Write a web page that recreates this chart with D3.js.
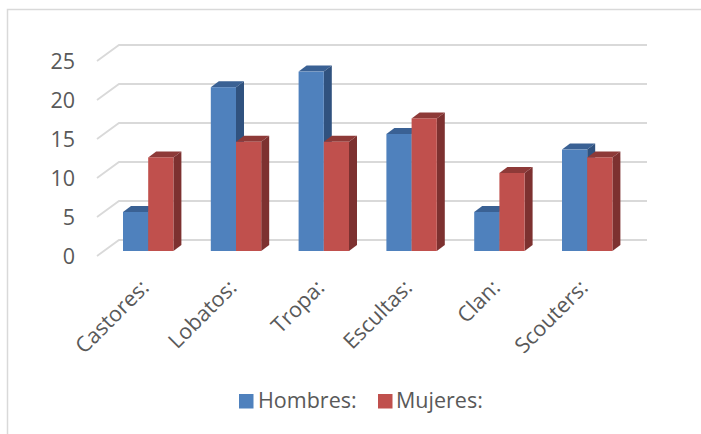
<!DOCTYPE html>
<html>
<head>
<meta charset="utf-8">
<script src="https://cdn.jsdelivr.net/npm/d3@7"></script>
<style>
  html, body { margin: 0; padding: 0; background: #fff; }
  svg { display: block; }
  text { font-family: "Open Sans", sans-serif; fill: #595959; }
</style>
</head>
<body>
<div id="chart"></div>
<script>
var width = 701;
var height = 434;

var categories = ["Castores:", "Lobatos:", "Tropa:", "Escultas:", "Clan:", "Scouters:"];
var seriesNames = ["Hombres:", "Mujeres:"];
var hombres = [5, 21, 23, 15, 5, 13];
var mujeres = [12, 14, 14, 17, 10, 12];
var yTicks = [0, 5, 10, 15, 20, 25];
var frontColors = ["#4f81bd", "#c0504d"];
var sideColors = ["#30527f", "#7d3130"];
var topColors = ["#3a6194", "#8e3a38"];

// fake 3d offsets of the bars and of the walls
var depthX = 8, depthY = -6;
var wallX = 22, wallY = -16;
var fontSize = 21.5;

var svg = d3.select("#chart").append("svg")
  .attr("width", width)
  .attr("height", height);

// chart frame, runs off the right and bottom of the picture
svg.append("path")
  .attr("d", "M7.5," + height + "V9.5H" + width)
  .attr("fill", "none")
  .attr("stroke", "#d9d9d9")
  .attr("stroke-width", 1.5);

var x = d3.scaleBand().domain(categories).range([123, 612.4]).paddingInner(0.426);
var xSeries = d3.scaleBand().domain(seriesNames).range([0, x.bandwidth()]);
var y = d3.scaleLinear().domain([0, 25]).range([251, 56]);

// gridlines on the side wall and the back wall
var grid = svg.append("g")
  .attr("fill", "none")
  .attr("stroke", "#d9d9d9")
  .attr("stroke-width", 1.8);

grid.selectAll("path")
  .data(yTicks)
  .enter()
  .append("path")
  .attr("d", (d) => {
    const y0 = y(d) + 5;
    return `M97,${y0}L${97 + wallX},${y0 + wallY}H647`;
  });

// y axis labels
var yAxis = svg.append("g")
  .attr("transform", "translate(97,6)")
  .call(d3.axisLeft(y).tickValues(yTicks).tickSize(0).tickPadding(22));
yAxis.select(".domain").remove();
yAxis.selectAll("text")
  .style("font-family", '"Open Sans", sans-serif')
  .style("font-size", fontSize + "px")
  .style("fill", "#595959");

// bars, left to right so that red covers the side of blue
var groups = svg.selectAll(".group")
  .data(categories)
  .enter()
  .append("g")
  .attr("class", "group")
  .attr("transform", (d) => `translate(${x(d)},0)`);

groups.each(function (cat, i) {
  const group = d3.select(this);
  [hombres[i], mujeres[i]].forEach((value, s) => {
    const x0 = xSeries(seriesNames[s]);
    const x1 = x0 + xSeries.bandwidth();
    const yTop = y(value);
    const yBase = y(0);

    group.append("path")
      .attr("fill", topColors[s])
      .attr("d", `M${x0},${yTop}l${depthX},${depthY}H${x1 + depthX}L${x1},${yTop}Z`);

    group.append("path")
      .attr("fill", sideColors[s])
      .attr("d", `M${x1},${yTop}l${depthX},${depthY}V${yBase + depthY}L${x1},${yBase}Z`);

    group.append("rect")
      .attr("x", x0)
      .attr("y", yTop)
      .attr("width", x1 - x0)
      .attr("height", yBase - yTop)
      .attr("fill", frontColors[s]);
  });
});

// rotated category labels, their ends sit under the middle of each group
svg.selectAll(".cat-label")
  .data(categories)
  .enter()
  .append("text")
  .attr("class", "cat-label")
  .attr("text-anchor", "end")
  .attr("font-size", fontSize)
  .attr("transform", (d) => `translate(${x(d) + x.bandwidth() / 2 + 2},${289}) rotate(-45)`)
  .text((d) => d);

// legend
var legendX = d3.scaleOrdinal().domain(seriesNames).range([239, 378]);

var legend = svg.selectAll(".legend")
  .data(seriesNames)
  .enter()
  .append("g")
  .attr("class", "legend")
  .attr("transform", (d) => `translate(${legendX(d)},394)`);

legend.append("rect")
  .attr("width", 14.5)
  .attr("height", 14.5)
  .attr("fill", (d, i) => frontColors[i]);

legend.append("text")
  .attr("x", (d, i) => (i === 0 ? 19 : 18))
  .attr("y", 14)
  .attr("font-size", fontSize)
  .text((d) => d);
</script>
</body>
</html>
